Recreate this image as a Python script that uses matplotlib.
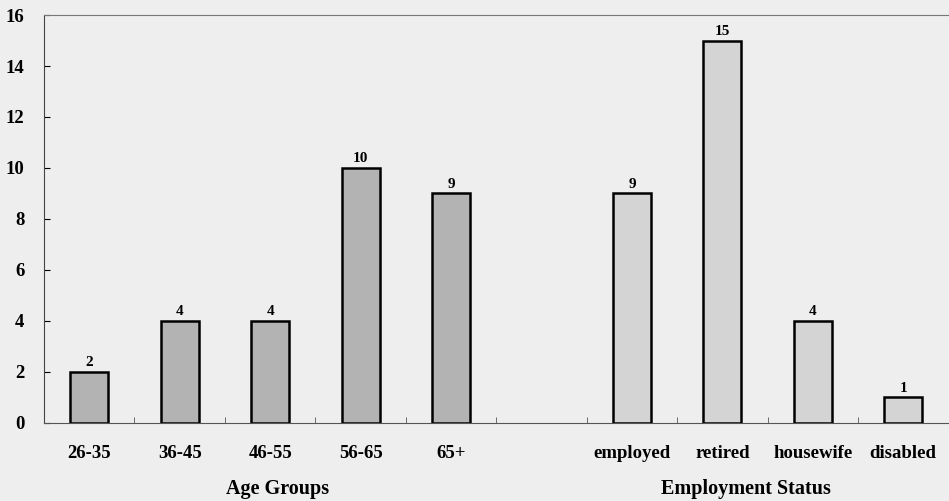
import numpy as np
import matplotlib.pyplot as plt

age_groups = ['26-35', '36-45', '46-55', '56-65', '65+']
age_counts = [2, 4, 4, 10, 9]
emp_status = ['employed', 'retired', 'housewife', 'disabled']
emp_counts = [9, 15, 4, 1]
yticks = [0, 2, 4, 6, 8, 10, 12, 14, 16]

plt.rcParams['font.family'] = ['Liberation Serif', 'DejaVu Serif']
plt.rcParams['font.weight'] = 'bold'

fig = plt.figure(figsize=(9.49, 5.01), dpi=100, facecolor='#eeeeee')
ax = fig.add_axes([0.0464, 0.156, 0.953, 0.814])
ax.set_facecolor('#eeeeee')

labels = age_groups + [''] + emp_status
x_age = np.arange(len(age_groups))
x_emp = np.arange(len(emp_status)) + len(age_groups) + 1

b1 = ax.bar(x_age, age_counts, width=0.42, color='#b3b3b3', edgecolor='black', linewidth=1.8)
b2 = ax.bar(x_emp, emp_counts, width=0.42, color='#d4d4d4', edgecolor='black', linewidth=1.8)
for bars in (b1, b2):
    ax.bar_label(bars, padding=2, fontsize=11, fontweight='bold')

ax.set_xlim(-0.5, len(labels) - 0.5)
ax.set_ylim(0, 16)
ax.set_yticks(yticks)
ax.set_xticks(np.arange(len(labels)))
ax.set_xticklabels(labels, fontsize=13.5, fontweight='bold')
ax.set_xticks(np.arange(len(labels) - 1) + 0.5, minor=True)
ax.tick_params(axis='x', which='major', length=0, pad=16)
ax.tick_params(axis='x', which='minor', direction='in', length=4, color='#555555')
ax.tick_params(axis='y', direction='in', length=4, labelsize=13.5, pad=14)
for t in ax.get_yticklabels():
    t.set_fontweight('bold')

ax.spines['right'].set_visible(False)
ax.spines['top'].set_color('#777777')
ax.spines['top'].set_linewidth(0.8)
ax.spines['left'].set_color('#444444')
ax.spines['bottom'].set_color('#555555')

fig.text(0.293, 0.004, 'Age Groups', ha='center', va='bottom', fontsize=14.5, fontweight='bold')
fig.text(0.786, 0.004, 'Employment Status', ha='center', va='bottom', fontsize=14.5, fontweight='bold')

fig.savefig('out.png', dpi=100, facecolor=fig.get_facecolor())
